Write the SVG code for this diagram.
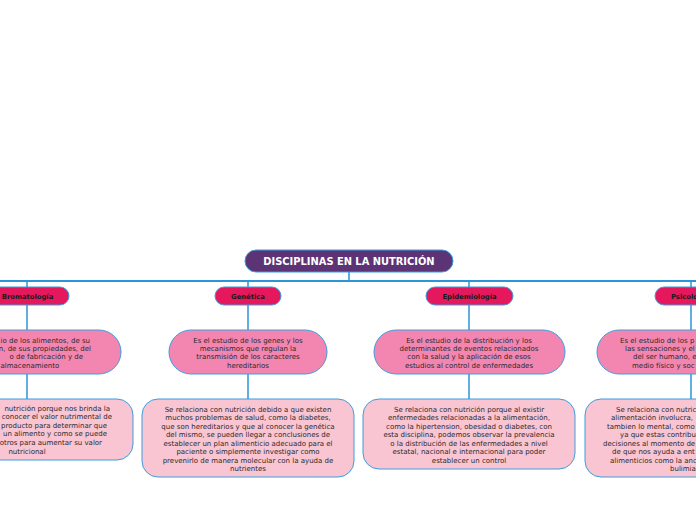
<svg xmlns="http://www.w3.org/2000/svg" width="696" height="520" viewBox="0 0 696 520">
<style>
.root{fill:#5c3475;stroke:#3d9ddc;stroke-width:1}
.l1{fill:#e5185e;stroke:#3d9ddc;stroke-width:1}
.l2{fill:#f386b0;stroke:#3d9ddc;stroke-width:1}
.l3{fill:#f9c5d2;stroke:#3d9ddc;stroke-width:1}
.rt{font-family:"DejaVu Sans",Verdana,sans-serif;font-weight:bold;font-size:9.9px;fill:#ffffff;text-anchor:middle}
.h1{font-family:"DejaVu Sans",Verdana,sans-serif;font-weight:bold;font-size:6.8px;fill:#1a1a1a;text-anchor:middle}
.t{font-family:"DejaVu Sans",Verdana,sans-serif;font-size:7px;fill:#2a2a2a;text-anchor:middle}
.te{font-family:"DejaVu Sans",Verdana,sans-serif;font-size:7px;fill:#2a2a2a;text-anchor:end}
.ts{font-family:"DejaVu Sans",Verdana,sans-serif;font-size:7px;fill:#2a2a2a;text-anchor:start}
.hs{font-family:"DejaVu Sans",Verdana,sans-serif;font-weight:bold;font-size:6.8px;fill:#1a1a1a;text-anchor:start}
.c{stroke:#2a95d8;stroke-width:1.5;fill:none}
</style>
<rect width="696" height="520" fill="#ffffff"/>
<g id="connectors">
<line class="c" x1="0" y1="281" x2="696" y2="281" style="stroke-width:2"/>
<line class="c" x1="349" y1="272" x2="349" y2="281"/>
<line class="c" x1="27" y1="281" x2="27" y2="287"/>
<line class="c" x1="27" y1="305" x2="27" y2="330"/>
<line class="c" x1="27" y1="374" x2="27" y2="399"/>
<line class="c" x1="248" y1="281" x2="248" y2="287"/>
<line class="c" x1="248" y1="305" x2="248" y2="330"/>
<line class="c" x1="248" y1="374" x2="248" y2="399"/>
<line class="c" x1="469" y1="281" x2="469" y2="287"/>
<line class="c" x1="469" y1="305" x2="469" y2="330"/>
<line class="c" x1="469" y1="374" x2="469" y2="399"/>
<line class="c" x1="691" y1="281" x2="691" y2="287"/>
<line class="c" x1="691" y1="305" x2="691" y2="330"/>
<line class="c" x1="691" y1="374" x2="691" y2="399"/>
</g>
<g id="root">
<rect class="root" x="245" y="250" width="208" height="22" rx="11"/>
<text class="rt" x="349" y="264.8">DISCIPLINAS EN LA NUTRICIÓN</text>
</g>
<g id="bromatologia">
<rect class="l1" x="-15" y="287" width="84" height="18" rx="9"/>
<text class="h1" x="27.5" y="298.5">Bromatología</text>
</g>
<g id="bromatologia-def">
<rect class="l2" x="-67" y="330" width="188" height="44" rx="22"/>
<text class="te" x="90" y="342.5">io de los alimentos, de su</text>
<text class="te" x="91" y="350.9">n, de sus propiedades, del</text>
<text class="te" x="83" y="359.3">o de fabricación y de</text>
<text class="ts" x="0.5" y="367.7">almacenamiento</text>
</g>
<g id="bromatologia-rel">
<rect class="l3" x="-79" y="399" width="212" height="61" rx="16"/>
<text class="te" x="110" y="410.5">nutrición porque nos brinda la</text>
<text class="te" x="112" y="419.1">conocer el valor nutrimental de</text>
<text class="te" x="107" y="427.7">producto para determinar que</text>
<text class="te" x="107" y="436.3">un alimento y como se puede</text>
<text class="te" x="102" y="444.9">otros para aumentar su valor</text>
<text class="t" x="27" y="453.5">nutricional</text>
</g>
<g id="genetica">
<rect class="l1" x="215" y="287" width="66" height="18" rx="9"/>
<text class="h1" x="248" y="298.5">Genética</text>
</g>
<g id="genetica-def">
<rect class="l2" x="169" y="330" width="158" height="44" rx="22"/>
<text class="t" x="248" y="342.5">Es el estudio de los genes y los</text>
<text class="t" x="248" y="350.9">mecanismos que regulan la</text>
<text class="t" x="248" y="359.3">transmisión de los caracteres</text>
<text class="t" x="248" y="367.7">hereditarios</text>
</g>
<g id="genetica-rel">
<rect class="l3" x="142" y="399" width="212" height="78" rx="16"/>
<text class="t" x="248" y="411.5">Se relaciona con nutrición debido a que existen</text>
<text class="t" x="248" y="420">muchos problemas de salud, como la diabetes,</text>
<text class="t" x="248" y="428.5">que son hereditarios y que al conocer la genética</text>
<text class="t" x="248" y="437">del mismo, se pueden llegar a conclusiones de</text>
<text class="t" x="248" y="445.5">establecer un plan alimenticio adecuado para el</text>
<text class="t" x="248" y="454">paciente o simplemente investigar como</text>
<text class="t" x="248" y="462.5">prevenirlo de manera molecular con la ayuda de</text>
<text class="t" x="248" y="471">nutrientes</text>
</g>
<g id="epidemiologia">
<rect class="l1" x="426" y="287" width="87" height="18" rx="9"/>
<text class="h1" x="469.5" y="298.5">Epidemiología</text>
</g>
<g id="epidemiologia-def">
<rect class="l2" x="374" y="330" width="191" height="44" rx="22"/>
<text class="t" x="469" y="342.5">Es el estudio de la distribución y los</text>
<text class="t" x="469" y="350.9">determinantes de eventos relacionados</text>
<text class="t" x="469" y="359.3">con la salud y la aplicación de esos</text>
<text class="t" x="469" y="367.7">estudios al control de enfermedades</text>
</g>
<g id="epidemiologia-rel">
<rect class="l3" x="363" y="399" width="212" height="70" rx="16"/>
<text class="t" x="469" y="411.5">Se relaciona con nutrición porque al existir</text>
<text class="t" x="469" y="420">enfermedades relacionadas a la alimentación,</text>
<text class="t" x="469" y="428.5">como la hipertension, obesidad o diabetes, con</text>
<text class="t" x="469" y="437">esta disciplina, podemos observar la prevalencia</text>
<text class="t" x="469" y="445.5">o la distribución de las enfermedades a nivel</text>
<text class="t" x="469" y="454">estatal, nacional e internacional para poder</text>
<text class="t" x="469" y="462.5">establecer un control</text>
</g>
<g id="psicologia">
<rect class="l1" x="655" y="287" width="80" height="18" rx="9"/>
<text class="hs" x="671" y="298.5">Psicolo</text>
</g>
<g id="psicologia-def">
<rect class="l2" x="597" y="330" width="188" height="44" rx="22"/>
<text class="ts" x="620" y="342.5">Es el estudio de los p</text>
<text class="ts" x="625" y="350.9">las sensaciones y el</text>
<text class="ts" x="633" y="359.3">del ser humano, en</text>
<text class="ts" x="632" y="367.7">medio físico y soc</text>
</g>
<g id="psicologia-rel">
<rect class="l3" x="585" y="399" width="212" height="78" rx="16"/>
<text class="ts" x="616" y="411.5">Se relaciona con nutric</text>
<text class="ts" x="611" y="420">alimentación involucra,</text>
<text class="ts" x="607" y="428.5">tambien lo mental, como</text>
<text class="ts" x="620" y="437">ya que estas contribu</text>
<text class="ts" x="603" y="445.5">decisiones al momento de</text>
<text class="ts" x="612" y="454">de que nos ayuda a ent</text>
<text class="ts" x="610" y="462.5">alimenticios como la anc</text>
<text class="ts" x="670" y="471">bulimia</text>
</g>
</svg>
